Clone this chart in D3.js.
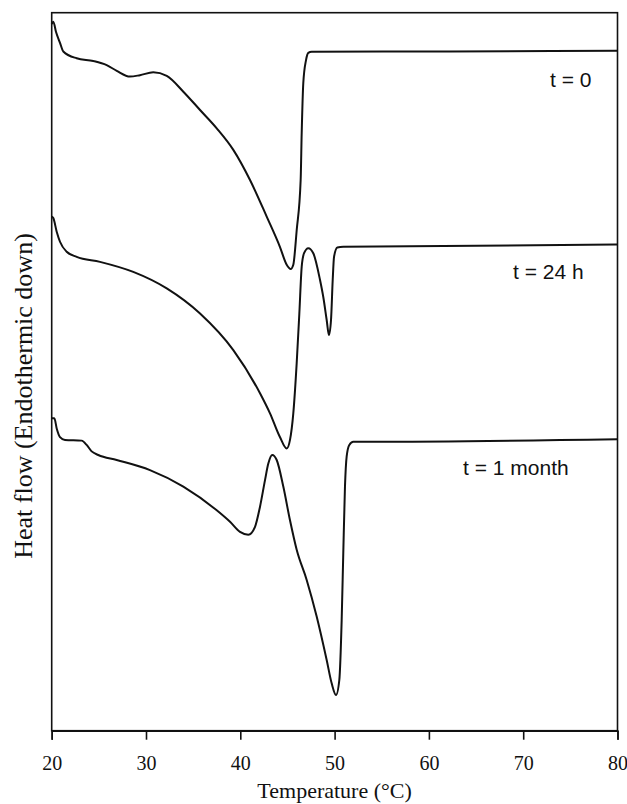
<!DOCTYPE html>
<html>
<head>
<meta charset="utf-8">
<script src="https://cdn.jsdelivr.net/npm/d3@7"></script>
<style>
  html, body { margin: 0; padding: 0; background: #fff; }
  svg { display: block; }
</style>
</head>
<body>
<svg id="chart" width="627" height="804"></svg>
<script>
// Temperature (°C) and heat flow (arbitrary units, endothermic down)
const tempT0 = [20.0, 20.17, 20.46, 20.88, 21.23, 22.65, 24.41, 25.83, 26.9, 28.3, 29.36, 30.77, 32.2, 33.96, 35.73, 37.5, 39.26, 41.03, 42.8, 44.2, 44.92, 45.34, 45.62, 45.98, 46.4, 46.51, 46.68, 46.97, 47.21, 47.57, 62.2, 80.0];
const flowT0 = [98.4, 98.75, 97.3, 95.8, 94.6, 93.65, 93.27, 92.7, 91.9, 91.1, 91.3, 91.7, 91.2, 89.0, 86.45, 83.9, 80.9, 76.7, 71.6, 67.4, 64.9, 64.3, 64.9, 69.7, 76.7, 83.2, 90.2, 93.4, 94.4, 94.57, 94.6, 94.7];

const temp24h = [20.0, 20.17, 20.53, 20.88, 21.59, 22.65, 25.12, 28.65, 32.2, 35.73, 39.26, 42.09, 43.15, 44.2, 44.92, 45.27, 45.62, 45.98, 46.26, 46.51, 46.76, 47.21, 47.74, 48.45, 48.8, 49.16, 49.4, 49.62, 49.8, 49.94, 50.29, 50.92, 80.0];
const flow24h = [71.6, 71.4, 69.5, 68.1, 66.7, 66.0, 65.3, 63.9, 61.6, 58.1, 53.0, 47.0, 44.2, 40.9, 39.3, 40.5, 44.2, 51.2, 58.1, 64.6, 66.5, 67.2, 66.5, 62.8, 60.4, 57.2, 55.1, 57.2, 62.8, 66.0, 67.3, 67.4, 67.7];

const temp1m = [20.0, 20.28, 20.53, 20.88, 21.41, 23.18, 23.71, 24.24, 24.94, 26.89, 30.42, 33.96, 37.5, 38.91, 39.97, 40.85, 41.56, 42.09, 42.62, 42.97, 43.39, 43.86, 44.56, 45.27, 45.98, 47.04, 48.1, 49.16, 49.69, 50.15, 50.5, 50.75, 50.92, 51.1, 51.28, 51.56, 51.98, 53.4, 80.0];
const flow1m = [43.5, 43.5, 42.1, 40.9, 40.5, 40.4, 39.8, 38.9, 38.4, 37.7, 36.3, 34.0, 30.7, 29.1, 27.7, 27.3, 28.4, 31.2, 34.9, 37.2, 38.4, 37.7, 34.0, 29.3, 25.2, 21.0, 15.9, 9.85, 6.6, 4.97, 7.06, 15.4, 24.7, 34.0, 38.2, 39.8, 40.25, 40.25, 40.6];

const seriesLabels = ["t = 0", "t = 24 h", "t = 1 month"];
const labelTemp = [72.84, 68.92, 63.62];
const labelFlow = [89.65, 62.9, 35.6];

const xTicks = [20, 30, 40, 50, 60, 70, 80];
const xTitle = "Temperature (°C)";
const yTitle = "Heat flow (Endothermic down)";

const svg = d3.select("#chart");
const mLeft = 51.7, mRight = 617.5, mTop = 12.7, mBottom = 730.7;

const x = d3.scaleLinear().domain([20, 80]).range([mLeft, mRight]);
const y = d3.scaleLinear().domain([0, 100]).range([mBottom, mTop]);

const ink = "#111";
const serif = "'Liberation Serif', 'Times New Roman', serif";

// frame
svg.append("rect")
  .attr("x", mLeft).attr("y", mTop)
  .attr("width", mRight - mLeft).attr("height", mBottom - mTop)
  .attr("fill", "none").attr("stroke", ink).attr("stroke-width", 1.6);

// bottom axis
const xAxis = d3.axisBottom(x).tickValues(xTicks).tickSize(9).tickPadding(16).tickFormat(d3.format("d"));
const gx = svg.append("g").attr("transform", `translate(0,${mBottom})`).call(xAxis);
gx.select(".domain").attr("stroke", ink).attr("stroke-width", 1.6);
gx.selectAll(".tick line").attr("stroke", ink).attr("stroke-width", 1.6);
gx.selectAll(".tick text")
  .attr("font-family", serif)
  .attr("font-size", 20).attr("fill", ink);

// axis titles
svg.append("text")
  .attr("x", (mLeft + mRight) / 2).attr("y", 798)
  .attr("text-anchor", "middle")
  .attr("font-family", serif)
  .attr("font-size", 22).attr("fill", ink)
  .text(xTitle);

svg.append("text")
  .attr("transform", `translate(32,${396}) rotate(-90)`)
  .attr("text-anchor", "middle")
  .attr("font-family", serif)
  .attr("font-size", 26).attr("fill", ink)
  .text(yTitle);

// curves
const line = d3.line()
  .x(d => x(d[0]))
  .y(d => y(d[1]))
  .curve(d3.curveMonotoneX);

const series = [
  d3.zip(tempT0, flowT0),
  d3.zip(temp24h, flow24h),
  d3.zip(temp1m, flow1m)
];

svg.append("g").selectAll("path")
  .data(series)
  .join("path")
  .attr("d", line)
  .attr("fill", "none")
  .attr("stroke", ink)
  .attr("stroke-width", 2)
  .attr("stroke-linejoin", "round");

// series labels
svg.append("g").selectAll("text")
  .data(seriesLabels)
  .join("text")
  .attr("x", (d, i) => x(labelTemp[i]))
  .attr("y", (d, i) => y(labelFlow[i]))
  .attr("font-family", "'Liberation Sans', Arial, sans-serif")
  .attr("font-size", 21).attr("fill", ink)
  .text(d => d);
</script>
</body>
</html>
